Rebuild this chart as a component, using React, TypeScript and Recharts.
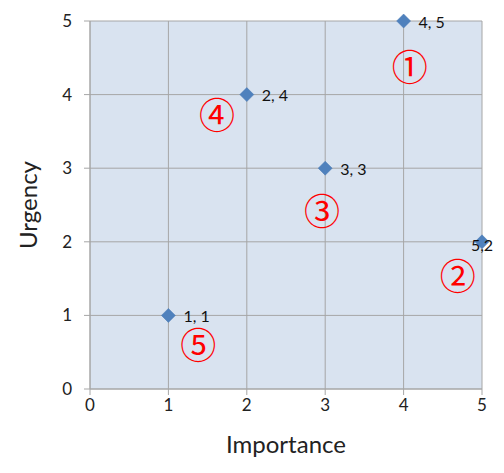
import { ScatterChart, Scatter, XAxis, YAxis, CartesianGrid, Label, LabelList } from "recharts";

const importance = [4, 5, 3, 2, 1];
const urgency = [5, 2, 3, 4, 1];
const pointLabels = ["4, 5", "5,2", "3, 3", "2, 4", "1, 1"];

const markerNames = ["①", "②", "③", "④", "⑤"];
const markerX = [4.08, 4.69, 2.96, 1.62, 1.38];
const markerY = [4.36, 1.52, 2.4, 3.7, 0.58];

const ticks = [0, 1, 2, 3, 4, 5];

const points = importance.map((x, i) => ({ x, y: urgency[i], label: pointLabels[i] }));
const circled = markerNames.map((name, i) => ({ x: markerX[i], y: markerY[i], name }));

const FONT = "Lato, 'Open Sans', sans-serif";

const Diamond = (props: any) => {
  const { cx, cy } = props;
  const r = 7;
  return (
    <polygon
      points={`${cx},${cy - r} ${cx + r},${cy} ${cx},${cy + r} ${cx - r},${cy}`}
      fill="#4f81bd"
      stroke="#4a7ab5"
      strokeWidth={0.5}
    />
  );
};

const PointLabel = (props: any) => {
  const { x, y, width, height, value } = props;
  const cx = x + width / 2;
  const cy = y + height / 2;
  const atEdge = !String(value).includes(" ");
  return (
    <text
      x={atEdge ? cx : cx + 15}
      y={atEdge ? cy + 3 : cy}
      textAnchor={atEdge ? "middle" : "start"}
      dominantBaseline="central"
      fontFamily={FONT}
      fontSize={16}
      fill="#111"
    >
      {value}
    </text>
  );
};

const CircledNumber = (props: any) => {
  const { cx, cy, payload } = props;
  return (
    <text
      x={cx}
      y={cy}
      textAnchor="middle"
      dominantBaseline="central"
      fontFamily="'DejaVu Serif', 'Noto Sans CJK JP', serif"
      fontSize={36}
      fill="#ff0000"
    >
      {payload.name}
    </text>
  );
};

export default function App() {
  return (
    <div style={{ position: "absolute", left: 0, top: 0, width: 504, height: 473, background: "#fff" }}>
      <ScatterChart width={504} height={473} margin={{ top: 21, right: 22, bottom: 24, left: 30 }}>
        <CartesianGrid fill="#d9e3f0" stroke="#a6a6a6" strokeWidth={1} horizontalValues={ticks} verticalValues={ticks} />
        <XAxis
          type="number"
          dataKey="x"
          domain={[0, 5]}
          ticks={ticks}
          height={60}
          tickSize={6}
          tickMargin={4}
          stroke="#a6a6a6"
          tick={{ fill: "#222", fontSize: 17, fontFamily: FONT }}
        >
          <Label value="Importance" position="insideBottom" offset={-4} style={{ fontSize: 24, fontFamily: FONT, fill: "#222" }} />
        </XAxis>
        <YAxis
          type="number"
          dataKey="y"
          domain={[0, 5]}
          ticks={ticks}
          width={60}
          tickSize={6}
          tickMargin={12}
          stroke="#a6a6a6"
          tick={{ fill: "#222", fontSize: 17, fontFamily: FONT }}
        >
          <Label value="Urgency" angle={-90} position="insideLeft" offset={-2} style={{ fontSize: 24, fontFamily: FONT, fill: "#222", textAnchor: "middle" }} />
        </YAxis>
        <Scatter data={circled} shape={CircledNumber} isAnimationActive={false} />
        <Scatter data={points} shape={Diamond} isAnimationActive={false}>
          <LabelList dataKey="label" content={PointLabel} />
        </Scatter>
      </ScatterChart>
    </div>
  );
}
